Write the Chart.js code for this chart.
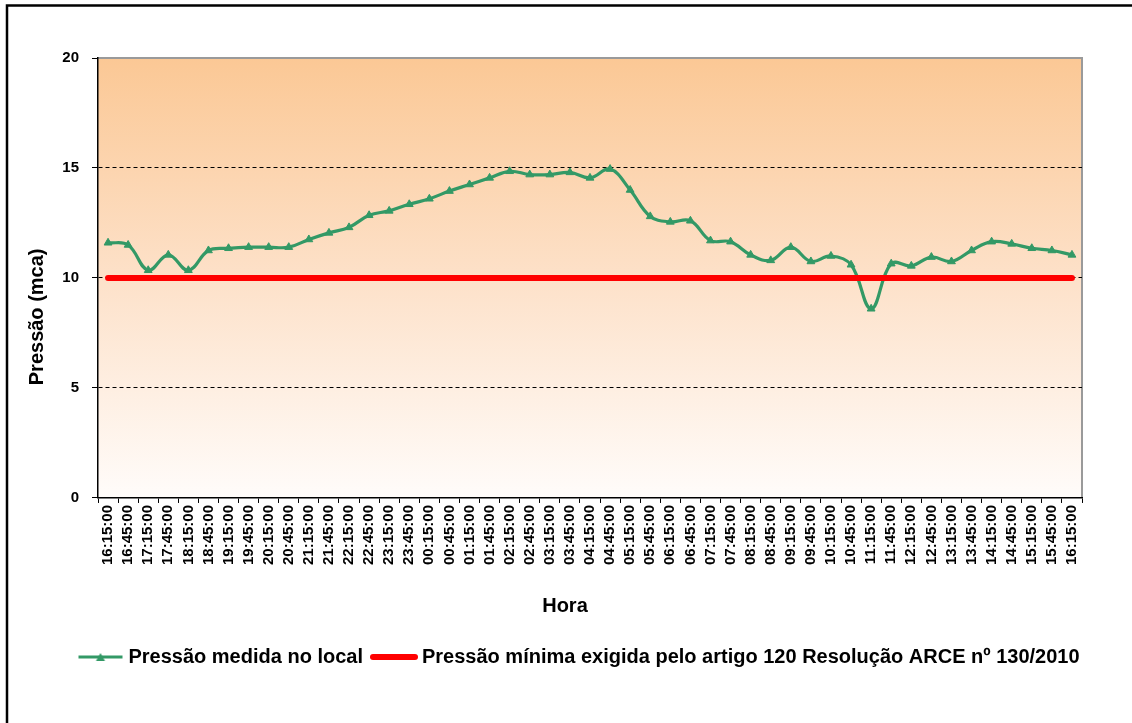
<!DOCTYPE html>
<html><head><meta charset="utf-8">
<script src="https://cdn.jsdelivr.net/npm/chart.js@4.4.1/dist/chart.umd.min.js"></script>
<style>html,body{margin:0;padding:0;background:#fff;}</style>
</head><body>
<canvas id="c" width="1132" height="723"></canvas>
<script>
const times = ['16:15:00','16:45:00','17:15:00','17:45:00','18:15:00','18:45:00','19:15:00','19:45:00','20:15:00','20:45:00',
  '21:15:00','21:45:00','22:15:00','22:45:00','23:15:00','23:45:00','00:15:00','00:45:00','01:15:00','01:45:00',
  '02:15:00','02:45:00','03:15:00','03:45:00','04:15:00','04:45:00','05:15:00','05:45:00','06:15:00','06:45:00',
  '07:15:00','07:45:00','08:15:00','08:45:00','09:15:00','09:45:00','10:15:00','10:45:00','11:15:00','11:45:00',
  '12:15:00','12:45:00','13:15:00','13:45:00','14:15:00','14:45:00','15:15:00','15:45:00','16:15:00'];
const pressure = [11.6, 11.5, 10.35, 11.05, 10.35, 11.25, 11.35, 11.4, 11.4, 11.4,
  11.75, 12.05, 12.3, 12.85, 13.05, 13.35, 13.6, 13.95, 14.25, 14.55,
  14.85, 14.7, 14.7, 14.8, 14.55, 14.95, 14.0, 12.8, 12.55, 12.6,
  11.7, 11.65, 11.05, 10.8, 11.4, 10.75, 11.0, 10.6, 8.6, 10.65,
  10.55, 10.95, 10.75, 11.25, 11.65, 11.55, 11.35, 11.25, 11.05];
const minimum = [10,10,10,10,10,10,10,10,10,10,10,10,10,10,10,10,10,10,10,10,10,10,10,10,10,
  10,10,10,10,10,10,10,10,10,10,10,10,10,10,10,10,10,10,10,10,10,10,10,10];
const seriesNames = ['Pressão medida no local', 'Pressão mínima exigida pelo artigo 120 Resolução ARCE nº 130/2010'];
const yTitle = 'Pressão (mca)';
const xTitle = 'Hora';
const yMin = 0, yMax = 20, yStep = 5;

const GREEN = '#339966', RED = '#FF0000';
const FONT = '"Liberation Sans", Arial, sans-serif';
const NBSP = '\u00A0';

function makeSym(w, h, draw) { const c = document.createElement('canvas'); c.width = w; c.height = h; draw(c.getContext('2d')); return c; }
const greenSym = makeSym(46, 14, g => {
  g.strokeStyle = GREEN; g.lineWidth = 3; g.beginPath(); g.moveTo(1, 7); g.lineTo(45, 7); g.stroke();
  g.fillStyle = GREEN; g.beginPath(); g.moveTo(23, 3); g.lineTo(27.5, 11); g.lineTo(18.5, 11); g.closePath(); g.fill();
});
const redSym = makeSym(50, 14, g => {
  g.strokeStyle = RED; g.lineWidth = 6; g.lineCap = 'round'; g.beginPath(); g.moveTo(4, 7); g.lineTo(46, 7); g.stroke();
});

const framePlugin = {
  id: 'frame',
  afterLayout(chart) {
    if (chart.legend) { chart.legend.left += 33; chart.legend.right += 33; }
  },
  beforeDraw(chart) {
    const {ctx, chartArea: a} = chart;
    ctx.save();
    const grad = ctx.createLinearGradient(0, a.top, 0, a.bottom);
    grad.addColorStop(0, '#FBC895');
    grad.addColorStop(0.5, '#FDE1C9');
    grad.addColorStop(1, '#FFFCFA');
    ctx.fillStyle = grad;
    ctx.fillRect(a.left, a.top, a.right - a.left, a.bottom - a.top);
    ctx.strokeStyle = '#9A9A9A'; ctx.lineWidth = 2;
    ctx.beginPath(); ctx.moveTo(a.left, a.top); ctx.lineTo(a.right, a.top); ctx.lineTo(a.right, a.bottom); ctx.stroke();
    ctx.strokeStyle = '#000'; ctx.lineWidth = 2.5;
    ctx.beginPath(); ctx.moveTo(7, 723); ctx.lineTo(7, 5.5); ctx.lineTo(1132, 5.5); ctx.stroke();
    ctx.restore();
  }
};

new Chart(document.getElementById('c'), {
  type: 'line',
  data: {
    labels: times,
    datasets: [
      { label: seriesNames[0], data: pressure, borderColor: GREEN, backgroundColor: GREEN, borderWidth: 3.2,
        pointStyle: 'triangle', pointRadius: 4.5, pointBorderWidth: 1, pointBackgroundColor: GREEN, pointBorderColor: GREEN,
        tension: 0.4, fill: false, order: 1 },
      { label: seriesNames[1], data: minimum, borderColor: RED, backgroundColor: RED, borderWidth: 6,
        borderCapStyle: 'round', pointRadius: 0, tension: 0, fill: false, order: 0 }
    ]
  },
  options: {
    responsive: false, animation: false, devicePixelRatio: 1,
    layout: { padding: { top: 58, left: 14, right: 50, bottom: 46 } },
    plugins: {
      tooltip: { enabled: false },
      legend: {
        position: 'bottom',
        labels: {
          usePointStyle: true, pointStyleWidth: 36, padding: 13, color: '#000',
          font: { family: FONT, size: 20, weight: 'bold' },
          generateLabels: () => [
            { text: seriesNames[0], pointStyle: greenSym, fillStyle: GREEN, strokeStyle: GREEN, lineWidth: 0, hidden: false, datasetIndex: 0, fontColor: '#000' },
            { text: seriesNames[1], pointStyle: redSym, fillStyle: RED, strokeStyle: RED, lineWidth: 0, hidden: false, datasetIndex: 1, fontColor: '#000' }
          ]
        }
      }
    },
    scales: {
      x: {
        offset: true,
        grid: { offset: true, drawOnChartArea: false, drawTicks: true, tickLength: 5, tickColor: '#000', color: '#000', tickWidth: 1 },
        border: { color: '#000', width: 1.5 },
        ticks: { autoSkip: false, maxRotation: 90, minRotation: 90, padding: 2, color: '#000',
          font: { family: FONT, size: 15, weight: 'bold' } },
        title: { display: true, text: xTitle + NBSP.repeat(9), color: '#000', font: { family: FONT, size: 20, weight: 'bold' }, padding: { top: 27, bottom: 16 } }
      },
      y: {
        min: yMin, max: yMax,
        afterFit(s) { s.width = 84; },
        grid: { color: c => (c.tick && (c.tick.value === yMin || c.tick.value === yMax)) ? 'rgba(0,0,0,0)' : '#000',
          lineWidth: 1, tickLength: 6, tickColor: '#000', tickWidth: 1, tickBorderDash: [] },
        border: { color: '#000', width: 1.5, dash: [4, 3] },
        ticks: { stepSize: yStep, padding: 13, color: '#000', font: { family: FONT, size: 15, weight: 'bold' } },
        title: { display: true, text: yTitle + NBSP.repeat(14), color: '#000', font: { family: FONT, size: 20, weight: 'bold' }, padding: { top: 11, bottom: 0 } }
      }
    }
  },
  plugins: [framePlugin]
});
</script>
</body></html>
